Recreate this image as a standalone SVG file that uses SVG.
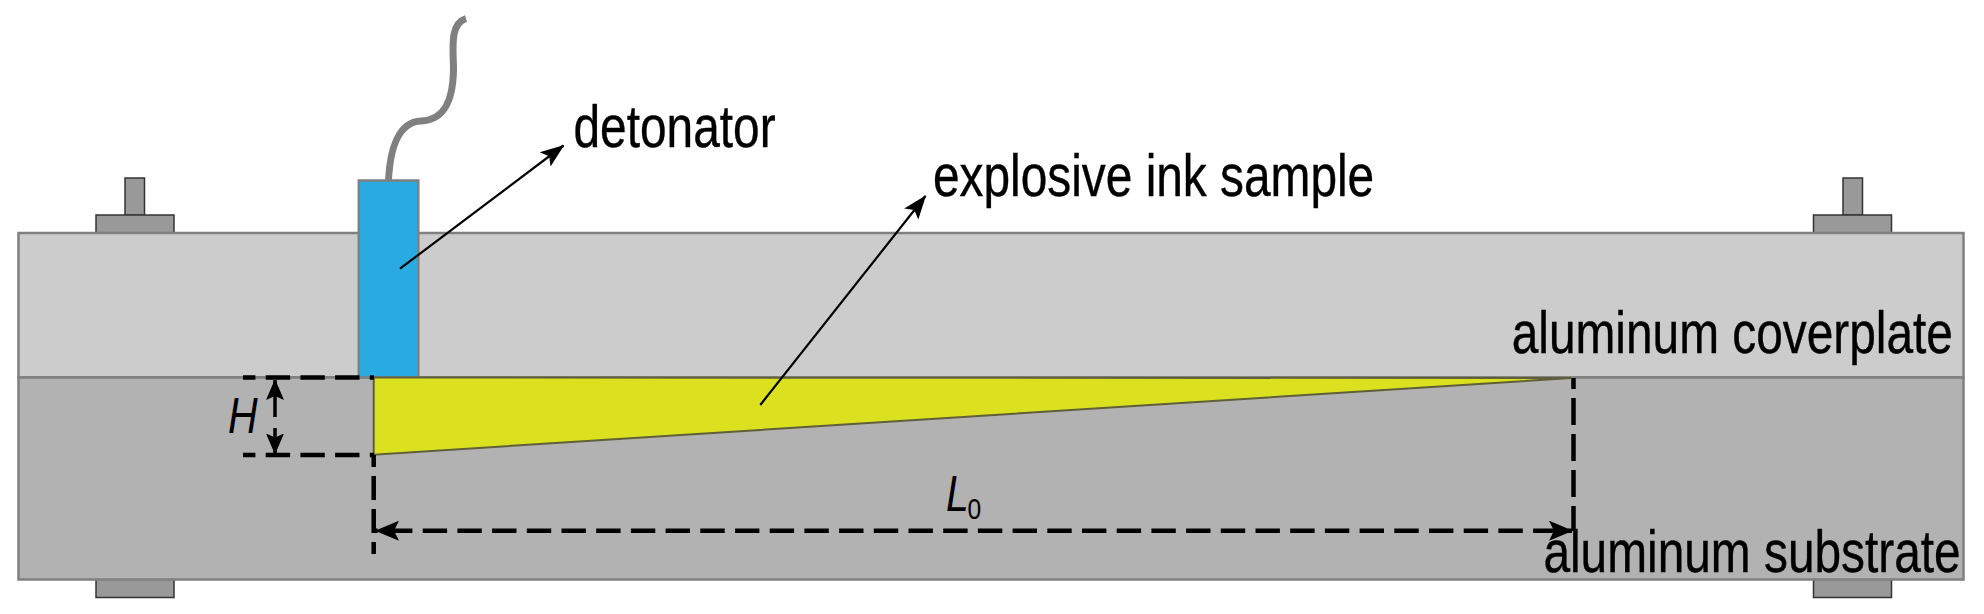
<svg xmlns="http://www.w3.org/2000/svg" width="1984" height="614" viewBox="0 0 1984 614">
<style>
.plate{stroke:#808080;stroke-width:2.5}
.bolt{fill:#999;stroke:#333;stroke-width:1.5}
.lbl{font-family:"Liberation Sans",Arial,sans-serif;font-size:60px;fill:#000;stroke:#000;stroke-width:.4}
.dim{font-family:"Liberation Sans",Arial,sans-serif;font-style:italic;font-size:50px;fill:#000}
.sub{font-family:"Liberation Sans",Arial,sans-serif;font-size:30px;fill:#000}
.dash{fill:none;stroke:#000;stroke-width:4.5;stroke-dasharray:24.4 10.3}
.dash-left{fill:none;stroke:#000;stroke-width:4.5;stroke-dasharray:24 9}
.dash-right{fill:none;stroke:#000;stroke-width:4.5;stroke-dasharray:27 9}
.dash-h{fill:none;stroke:#000;stroke-width:3.5;stroke-dasharray:37 11}
.lead{fill:none;stroke:#000;stroke-width:2.2}
</style>
<defs>
<marker id="lh" viewBox="0 0 24 20" refX="23" refY="10" markerWidth="24" markerHeight="20" markerUnits="userSpaceOnUse" orient="auto"><path d="M0 1L24 10L0 19L5 10Z" fill="#000"/></marker>
<marker id="dh" viewBox="0 0 24 20" refX="23" refY="10" markerWidth="24" markerHeight="20" markerUnits="userSpaceOnUse" orient="auto-start-reverse"><path d="M0 0L24 10L0 20L5 10Z" fill="#000"/></marker>
<marker id="vh" viewBox="0 0 21 18" refX="20" refY="9" markerWidth="21" markerHeight="18" markerUnits="userSpaceOnUse" orient="auto-start-reverse"><path d="M0 0L21 9L0 18L4 9Z" fill="#000"/></marker>
</defs>
<rect width="1984" height="614" fill="#fff"/>
<g id="bolt-top-left"><rect class="bolt" x="125" y="178" width="19.500" height="37"/><rect class="bolt" x="96" y="215" width="78" height="18.500"/></g>
<g id="bolt-top-right"><rect class="bolt" x="1843" y="178" width="19.500" height="37"/><rect class="bolt" x="1813.500" y="215" width="78" height="18.500"/></g>
<g id="bolt-bottom-left"><rect class="bolt" x="96" y="579" width="78" height="18.500"/></g>
<g id="bolt-bottom-right"><rect class="bolt" x="1813.500" y="579" width="78" height="18.500"/></g>
<g id="coverplate"><rect class="plate" x="18.500" y="233" width="1945" height="144.500" fill="#ccc"/></g>
<g id="substrate"><rect class="plate" x="18.500" y="377.500" width="1945" height="202" fill="#b2b2b2"/></g>
<g id="wire"><path d="M388.500 180C390 150 398 122 421 121C445 120 453 100 453.500 70C453.500 50 449 24 466 18.500" fill="none" stroke="#808080" stroke-width="7"/></g>
<g id="detonator"><rect x="358.800" y="180.500" width="59.500" height="197" fill="#29abe2" stroke="#808080" stroke-width="2.500"/></g>
<g id="ink-sample"><path d="M373.700 377.500V454.700L1571 378Z" fill="#dce11f" stroke="#5f5f3a" stroke-width="2"/></g>
<g id="connectors">
<path class="lead" d="M400 268.700L563.500 145.500" marker-end="url(#lh)"/>
<path class="lead" d="M760.300 405L925.500 196" marker-end="url(#lh)"/>
<path class="dash" d="M243 377.500H374" stroke-dashoffset="12"/>
<path class="dash" d="M243 455H374" stroke-dashoffset="12"/>
<path class="dash-left" d="M373.700 455V554" stroke-dashoffset="12"/>
<path class="dash-right" d="M1573.500 378V531" stroke-dashoffset="16"/>
<path class="dash-h" d="M275 380V453.500" marker-start="url(#vh)" marker-end="url(#vh)"/>
<path class="dash" d="M376 530.700H1572" stroke-dashoffset="-12" marker-start="url(#dh)" marker-end="url(#dh)"/>
</g>
<g id="labels">
<text class="lbl" transform="translate(573.500 146.700) scale(.797 1)">detonator</text>
<text class="lbl" transform="translate(933 195.700) scale(.797 1)">explosive ink sample</text>
<text class="lbl" transform="translate(1511.700 353.300) scale(.797 1)">aluminum coverplate</text>
<text class="lbl" transform="translate(1543.400 571.700) scale(.797 1)">aluminum substrate</text>
<text class="dim" transform="translate(228 432.700) scale(.82 1)">H</text>
<text class="dim" transform="translate(946 510.700) scale(.82 1)">L</text>
<text class="sub" transform="translate(967.500 519) scale(.82 1)">0</text>
</g>
</svg>
